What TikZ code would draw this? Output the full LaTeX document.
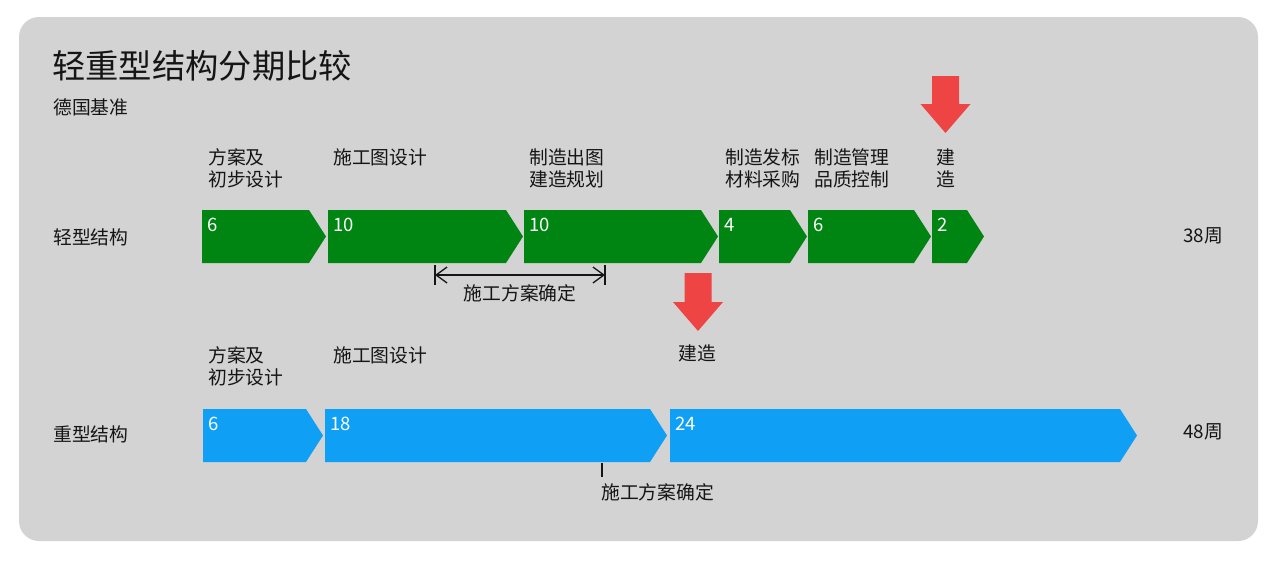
\documentclass[tikz,border=0pt]{standalone}
\usepackage{fontspec}
\setmainfont{Noto Sans CJK SC}
\usetikzlibrary{arrows.meta}
\definecolor{panel}{HTML}{D3D3D3}
\definecolor{grn}{HTML}{008512}
\definecolor{blu}{HTML}{0FA0F5}
\definecolor{redar}{HTML}{EE4444}
\definecolor{ink}{HTML}{151515}
\newcommand\chevron[7]{% #1 name, #2 left, #3 tip, #4 top, #5 bottom, #6 colour, #7 number
  \fill[#6] (#2,#4) -- ({#3-17},#4) -- (#3,{(#4+#5)/2}) -- ({#3-17},#5) -- (#2,#5) -- cycle;
  \node[numlbl] (#1) at ({#2+5},{#4+14.5}) {#7};
}
\newcommand\redmark[4]{% #1 centre x, #2 top, #3 head start, #4 tip
  \fill[redar] ({#1-13.5},#2) -- ({#1+13.5},#2) -- ({#1+13.5},#3) -- ({#1+25},#3)
    -- (#1,#4) -- ({#1-25},#3) -- ({#1-13.5},#3) -- cycle;
}
\begin{document}
\begin{tikzpicture}[x=1pt,y=-1pt,
  numlbl/.style={anchor=west,inner sep=0pt,text=white,font=\fontsize{18.5}{20}\selectfont},
  lbl/.style={anchor=west,inner sep=0pt,text=ink,align=left,font=\fontsize{18.8}{22}\selectfont},
  clbl/.style={inner sep=0pt,text=ink,align=center,font=\fontsize{18.8}{22}\selectfont},
  dimline/.style={ink,line width=1.3pt},
]
\useasboundingbox (0,0) rectangle (1280,560);
\fill[white] (0,0) rectangle (1280,560);
\fill[panel, rounded corners=20pt] (19,17) rectangle (1258,541);

% title
\node[anchor=west,inner sep=0pt,text=ink,font=\fontsize{33.3}{36}\selectfont] (title) at (52,66) {轻重型结构分期比较};
\node[lbl] (sub) at (53,107) {德国基准};

% row labels
\node[lbl] (rowL) at (53,237) {轻型结构};
\node[lbl] (rowH) at (53,434) {重型结构};
\node[clbl] (totL) at (1203,236) {38周};
\node[clbl] (totH) at (1203,432) {48周};

% light structure row
\chevron{g1}{202}{326}{210}{263}{grn}{6}
\chevron{g2}{328}{523}{210}{263}{grn}{10}
\chevron{g3}{524}{718}{210}{263}{grn}{10}
\chevron{g4}{719}{807}{210}{263}{grn}{4}
\chevron{g5}{808}{931}{210}{263}{grn}{6}
\chevron{g6}{932}{984}{210}{263}{grn}{2}

\node[lbl] (lg1) at (208,168) {方案及\\初步设计};
\node[lbl] (lg2) at (333,157) {施工图设计};
\node[lbl] (lg3) at (529,168) {制造出图\\建造规划};
\node[lbl] (lg4) at (725,168) {制造发标\\材料采购};
\node[lbl] (lg5) at (814,168) {制造管理\\品质控制};
\node[clbl] (lg6) at (946,168) {建\\造};

\redmark{945.5}{76}{104}{133}

% dimension
\coordinate (dimL) at (435,275);
\coordinate (dimR) at (605,275);
\draw[dimline,{Straight Barb[length=11pt,width=16pt]}-{Straight Barb[length=11pt,width=16pt]}] (dimL) -- (dimR);
\draw[dimline] ([yshift=-10pt]dimL) -- ([yshift=10pt]dimL);
\draw[dimline] ([yshift=-10pt]dimR) -- ([yshift=10pt]dimR);
\node[clbl] (dimT) at (520,293) {施工方案确定};

% heavy structure row
\chevron{b1}{203}{323}{409}{462}{blu}{6}
\chevron{b2}{325}{667}{409}{462}{blu}{18}
\chevron{b3}{670}{1137}{409}{462}{blu}{24}

\node[lbl] (lb1) at (208,366) {方案及\\初步设计};
\node[lbl] (lb2) at (333,355) {施工图设计};

\redmark{698}{273}{302}{331}
\node[clbl] (lb3) at (697,353) {建造};

\coordinate (tickT) at (602,463);
\coordinate (tickB) at (602,477);
\draw[ink,line width=1.3pt] (tickT) -- (tickB);
\node[lbl] (lb4) at (601,492) {施工方案确定};
\end{tikzpicture}
\end{document}
